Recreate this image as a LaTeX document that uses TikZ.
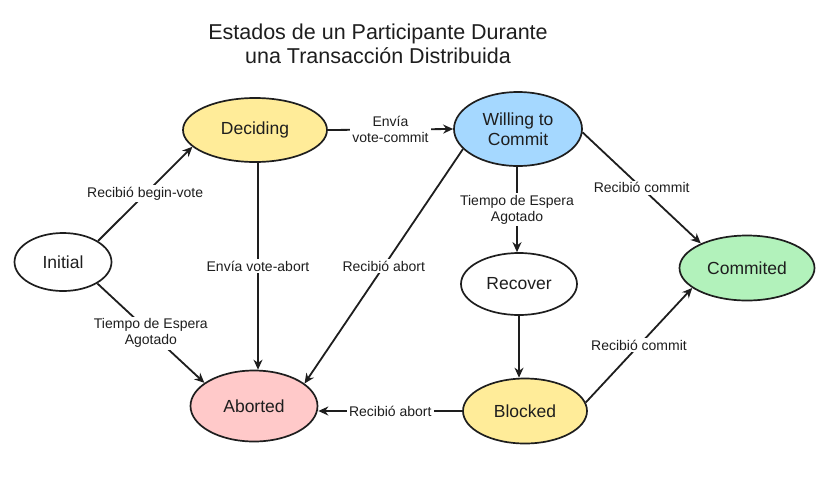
\documentclass[tikz,border=0pt]{standalone}
\usepackage{fontspec}
\setmainfont{Liberation Sans}
\usetikzlibrary{shapes.geometric,arrows.meta}
\definecolor{linec}{HTML}{1E1E1E}
\definecolor{yel}{HTML}{FFEC99}
\definecolor{blu}{HTML}{A5D8FF}
\definecolor{grn}{HTML}{B2F2BB}
\definecolor{pnk}{HTML}{FFC9C9}
\begin{document}
\begin{tikzpicture}[x=1pt,y=-1pt,
  state/.style={ellipse, draw=linec, line width=1.7pt, inner sep=0pt, align=center, text=linec,
    font=\fontsize{17.5}{20}\selectfont},
  edge/.style={draw=linec, line width=1.8pt, -{Stealth[length=10pt,width=9pt]}},
  lbl/.style={fill=white, inner sep=2pt, align=center, text=linec, font=\fontsize{14}{16}\selectfont},
  ttl/.style={align=center, text=linec, font=\fontsize{21.5}{24}\selectfont}]
\useasboundingbox[fill=white] (0,0) rectangle (826,477);

\node[ttl] (title) at (378,43.5) {Estados de un Participante Durante\\una Transacción Distribuida};

\node[state, minimum width=97pt, minimum height=58pt] (ini) at (63,262) {Initial};
\node[state, fill=yel, minimum width=144pt, minimum height=64pt] (dec) at (255,130) {Deciding};
\node[state, fill=blu, minimum width=128pt, minimum height=74pt] (wil) at (518,129) {Willing to\\Commit};
\node[state, fill=grn, minimum width=135pt, minimum height=65pt] (com) at (747,268) {Commited};
\node[state, minimum width=116pt, minimum height=62pt] (rec) at (519,284) {Recover};
\node[state, fill=pnk, minimum width=127pt, minimum height=71pt] (abo) at (254,406) {Aborted};
\node[state, fill=yel, minimum width=124pt, minimum height=65pt] (blo) at (525,411) {Blocked};

\draw[edge] (ini.31) -- node[lbl] {Recibió begin-vote} (dec.195);
\draw[edge] (ini.328) -- node[lbl] {Tiempo de Espera\\Agotado} (abo.155);
\draw[edge] (dec.east) -- node[lbl] {Envía\\vote-commit} (wil.west);
\draw[edge] ([xshift=3pt]dec.south) -- node[lbl] {Envía vote-abort} ([xshift=4pt]abo.north);
\draw[edge] (wil.200) -- node[lbl] {Recibió abort} (abo.24);
\draw[edge] ([xshift=-1pt]wil.south) -- node[lbl] {Tiempo de Espera\\Agotado} ([xshift=-2pt]rec.north);
\draw[edge] (wil.-3) -- node[lbl] {Recibió commit} (com.152);
\draw[edge] (rec.south) -- (rec.south |- blo.north);
\draw[edge] (blo.8) -- node[lbl] {Recibió commit} (com.200);
\draw[edge] (blo.west) -- node[lbl] {Recibió abort} (blo.west -| abo.east);
\end{tikzpicture}
\end{document}
